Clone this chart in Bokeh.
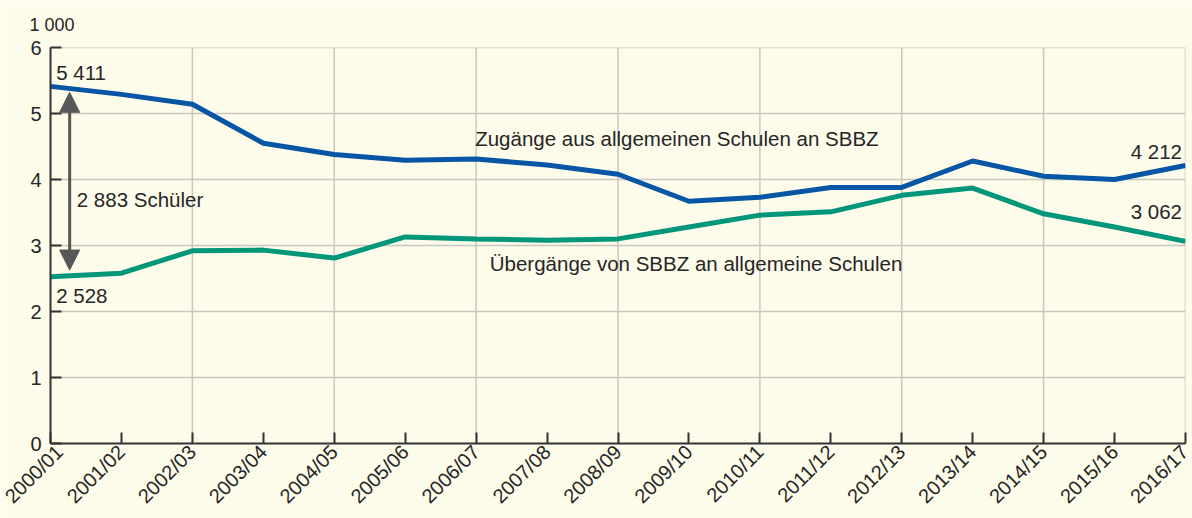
from math import pi
from bokeh.plotting import figure
from bokeh.models import (FixedTicker, Label, Arrow, NormalHead, ColumnDataSource, Span)
from bokeh.embed import file_html
from bokeh.resources import INLINE

years = ["2000/01", "2001/02", "2002/03", "2003/04", "2004/05", "2005/06",
         "2006/07", "2007/08", "2008/09", "2009/10", "2010/11", "2011/12",
         "2012/13", "2013/14", "2014/15", "2015/16", "2016/17"]
zugaenge = [5.411, 5.29, 5.14, 4.55, 4.38, 4.29, 4.31, 4.22, 4.08, 3.67,
            3.73, 3.88, 3.88, 4.28, 4.05, 4.00, 4.212]
uebergaenge = [2.528, 2.58, 2.92, 2.93, 2.81, 3.13, 3.10, 3.08, 3.10, 3.28,
               3.46, 3.51, 3.76, 3.87, 3.48, 3.28, 3.062]
y_ticks = [0, 1, 2, 3, 4, 5, 6]

BG = "#FDFBEA"
BLUE = "#0656A5"
GREEN = "#00967A"
TXT = "#262626"
GRID = "#C9C7BE"
FONT = "Liberation Sans"

x = list(range(len(years)))

p = figure(width=1192, height=518, output_backend="svg", toolbar_location=None,
           x_range=(0, len(years) - 1), y_range=(0, 6),
           min_border_left=50, min_border_right=7, min_border_top=46,
           min_border_bottom=75)
p.background_fill_color = BG
p.border_fill_color = BG
p.outline_line_color = None

# grid drawn explicitly: vertical lines at every second school year, horizontal at each unit
p.xgrid.visible = False
p.ygrid.visible = False
for i in x[2::2]:
    p.add_layout(Span(location=i, dimension="height", line_color=GRID,
                      line_width=1.5, level="underlay"))
for t in y_ticks[1:]:
    p.add_layout(Span(location=t, dimension="width", line_color=GRID,
                      line_width=1.5, level="underlay"))

src = ColumnDataSource(dict(x=x, z=zugaenge, u=uebergaenge))
p.line("x", "z", source=src, line_color=BLUE, line_width=5)
p.line("x", "u", source=src, line_color=GREEN, line_width=5)

# axes
p.xaxis.ticker = FixedTicker(ticks=x)
p.xaxis.major_label_overrides = {i: s for i, s in enumerate(years)}
p.xaxis.major_label_orientation = pi / 4
p.yaxis.ticker = FixedTicker(ticks=y_ticks)
for ax in (p.xaxis, p.yaxis):
    ax.axis_line_color = "#333333"
    ax.axis_line_width = 2
    ax.major_tick_line_color = "#333333"
    ax.major_tick_line_width = 2
    ax.major_tick_in = 11
    ax.major_tick_out = 0
    ax.minor_tick_line_color = None
    ax.major_label_text_font = FONT
    ax.major_label_text_font_size = "20px"
    ax.major_label_text_color = TXT
p.yaxis.major_label_standoff = 9
p.xaxis.major_label_standoff = 5

# unit title
p.title.text = "1 000"
p.title.text_font = FONT
p.title.text_font_size = "18px"
p.title.text_font_style = "normal"
p.title.text_color = TXT
p.title.align = "left"
p.title.offset = -21
p.title.standoff = 25

# arrow between first values
arr = Arrow(x_start=0.27, y_start=zugaenge[0] - 0.09, x_end=0.27, y_end=uebergaenge[0] + 0.1,
            line_color="#575757", line_width=3,
            start=NormalHead(size=20, fill_color="#575757", line_color="#575757"),
            end=NormalHead(size=20, fill_color="#575757", line_color="#575757"))
p.add_layout(arr)

def lab(xv, yv, text, align="left", baseline="middle", size="20.5px"):
    p.add_layout(Label(x=xv, y=yv, text=text, text_align=align, text_baseline=baseline,
                       text_font=FONT, text_font_size=size, text_color=TXT))

lab(0.08, 5.62, "5 411")
lab(0.08, 2.24, "2 528")
lab(15.95, 4.43, "4 212", align="right")
lab(15.95, 3.51, "3 062", align="right")
lab(0.37, 3.69, "2 883 Schüler")
lab(8.83, 4.62, "Zugänge aus allgemeinen Schulen an SBBZ", align="center")
lab(9.1, 2.72, "Übergänge von SBBZ an allgemeine Schulen", align="center")

html = file_html(p, INLINE)
html = html.replace("<body>", '<body style="background:%s">' % BG, 1)
open("out.html", "w").write(html)
